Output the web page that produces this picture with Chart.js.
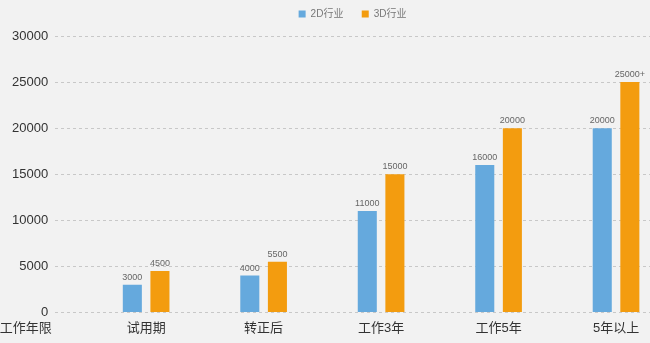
<!DOCTYPE html>
<html>
<head>
<meta charset="utf-8">
<script src="https://cdn.jsdelivr.net/npm/chart.js@4.4.1/dist/chart.umd.min.js"></script>
<style>
  html, body { margin: 0; padding: 0; background: #f2f2f2; }
  #wrap { width: 650px; height: 343px; }
</style>
</head>
<body>
<div id="wrap"><canvas id="barChart"></canvas></div>
<script>
"use strict";

// chart data
var categories = ['工作年限', '试用期', '转正后', '工作3年', '工作5年', '5年以上'];
var salary2D = [null, 3000, 4000, 11000, 16000, 20000];
var salary3D = [null, 4500, 5500, 15000, 20000, 25000];
var labels2D = ['', '3000', '4000', '11000', '16000', '20000'];
var labels3D = ['', '4500', '5500', '15000', '20000', '25000+'];
var yTicks = [0, 5000, 10000, 15000, 20000, 25000, 30000];

var font = '"Liberation Sans", "Noto Sans CJK SC", Arial, sans-serif';

function points(values) {
  return categories.map(function (c, i) {
    return { x: i, y: values[i] };
  });
}

// a bit more room under the legend
var legendSpace = {
  id: 'legendSpace',
  beforeInit: function (chart) {
    var fit = chart.legend.fit;
    chart.legend.fit = function () {
      fit.call(this);
      this.height += 7;
    };
  }
};

// value labels over the bars + the first category name
var barLabels = {
  id: 'barLabels',
  afterDatasetsDraw: function (chart) {
    var ctx = chart.ctx;
    ctx.save();
    ctx.font = '9px ' + font;
    ctx.fillStyle = '#666';
    ctx.textAlign = 'center';
    ctx.textBaseline = 'bottom';
    chart.data.datasets.forEach(function (ds, d) {
      chart.getDatasetMeta(d).data.forEach(function (bar, i) {
        if (ds.valueLabels[i]) {
          ctx.fillText(ds.valueLabels[i], bar.x, bar.y - 3);
        }
      });
    });
    // first category sits left of the plot area, so draw it here
    var xs = chart.scales.x;
    ctx.font = '13px ' + font;
    ctx.fillStyle = '#333';
    ctx.textBaseline = 'middle';
    ctx.fillText(categories[0], xs.getPixelForValue(0) - 3, xs.top + 8 + 8);
    ctx.restore();
  }
};

var ctx = document.getElementById('barChart').getContext('2d');
var myChart = new Chart(ctx, {
  type: 'bar',
  data: {
    datasets: [{
      label: '2D行业',
      data: points(salary2D),
      valueLabels: labels2D,
      backgroundColor: '#65a9dd',
    }, {
      label: '3D行业',
      data: points(salary3D),
      valueLabels: labels3D,
      backgroundColor: '#f39c0f',
    }]
  },
  options: {
    responsive: true,
    maintainAspectRatio: false,
    animation: false,
    categoryPercentage: 0.47,
    barPercentage: 0.69,
    layout: {
      padding: { top: -1, left: 5, right: 0, bottom: -1 }
    },
    scales: {
      x: {
        type: 'linear',
        offset: false,
        min: 0.2255,
        max: 5.289,
        afterBuildTicks: function (scale) {
          scale.ticks = categories.map(function (c, i) {
            return { value: i };
          }).filter(function (t) { return t.value >= 1; });
        },
        ticks: {
          padding: 8,
          color: '#333',
          font: { family: font, size: 13 },
          callback: function (value) { return categories[value]; }
        },
        grid: { display: false, drawTicks: false },
        border: { display: false }
      },
      y: {
        min: yTicks[0],
        max: yTicks[yTicks.length - 1],
        ticks: {
          stepSize: yTicks[1] - yTicks[0],
          padding: 7,
          color: '#333',
          font: { family: font, size: 13 },
          callback: function (value) { return String(value); }
        },
        grid: { color: '#c8c8c8', drawTicks: false },
        border: { display: false, dash: [3, 3] }
      }
    },
    plugins: {
      legend: {
        position: 'top',
        fullSize: false,
        labels: {
          boxWidth: 7,
          boxHeight: 7,
          padding: 10,
          color: '#777',
          font: { family: font, size: 10 },
          generateLabels: function (chart) {
            var items = Chart.defaults.plugins.legend.labels.generateLabels(chart);
            items[0].text = items[0].text + '   ';
            return items;
          }
        }
      },
      tooltip: { enabled: false }
    }
  },
  plugins: [legendSpace, barLabels]
});
</script>
</body>
</html>
